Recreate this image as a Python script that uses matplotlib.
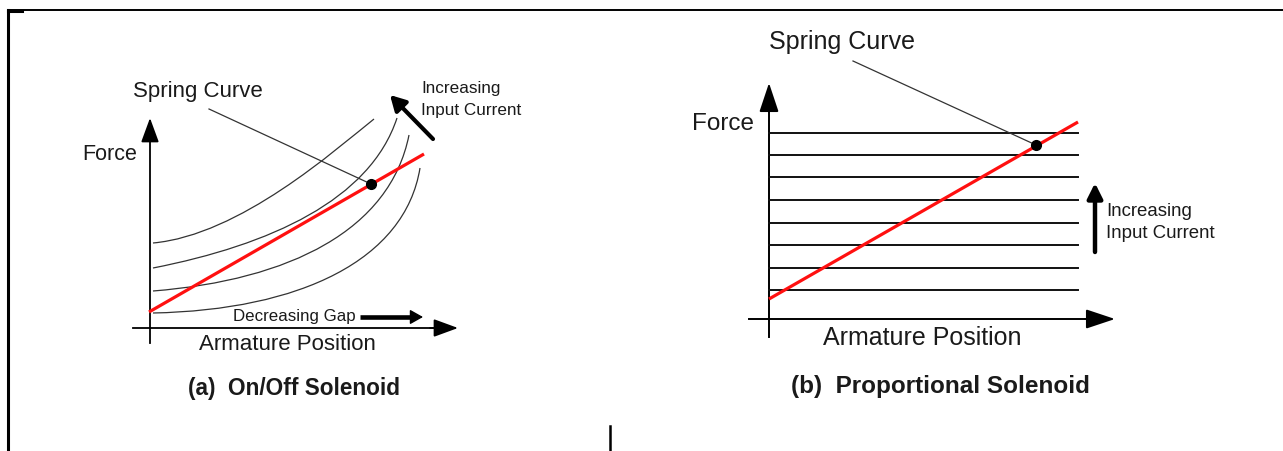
import numpy as np
import matplotlib.pyplot as plt
from matplotlib.path import Path
from matplotlib.patches import PathPatch

plt.rcParams['font.family'] = ['Liberation Sans', 'DejaVu Sans']

# panel (a): magnetic force curves, one per input current level
# each curve is a cubic bezier: start, control 1, control 2, end (drawing units)
curve_pts = [
    [(153, 243), (240, 235), (335, 150), (374, 119)],
    [(153, 268), (270, 245), (370, 200), (397, 118)],
    [(153, 291), (290, 280), (390, 230), (409, 135)],
    [(153, 313), (300, 310), (405, 260), (420, 168)],
]
spring_a_x = [149, 424]
spring_a_y = [312, 154]
op_a = (371, 184)

# panel (b): flat force lines for proportional solenoid
force_levels_b = [133, 155, 177, 200, 223, 245, 268, 290]
line_b_x = [769, 1078]
spring_b_x = [769, 1078]
spring_b_y = [299, 122]
op_b = (1036, 145)

fig = plt.figure(figsize=(12.83, 4.51), dpi=100)
ax = fig.add_axes([0, 0, 1, 1])
ax.set_xlim(0, 1283)
ax.set_ylim(451, 0)
ax.axis('off')

txt = '#1a1a1a'


def arrow(x0, y0, x1, y1, lw, hl, hw):
    ax.annotate('', xy=(x1, y1), xytext=(x0, y0),
                arrowprops=dict(arrowstyle='-|>,head_length=%g,head_width=%g' % (hl, hw),
                                lw=lw, color='black', shrinkA=0, shrinkB=0))


# page frame
ax.plot([8, 1283], [10, 10], color='black', lw=1.4)
ax.plot([8, 8], [10, 451], color='black', lw=2.2)
ax.plot([8, 22], [11, 11], color='black', lw=2.2)
ax.plot([610, 610], [426, 451], color='black', lw=1.8)

# ---- (a) On/Off solenoid ----
ax.plot([150, 150], [343, 125], color='black', lw=1.3)
arrow(150, 140, 150, 118, 1.3, 1.5, 0.55)
ax.plot([133, 440], [328, 328], color='black', lw=1.3)
arrow(430, 328, 458, 328, 1.3, 1.5, 0.55)

codes = [Path.MOVETO, Path.CURVE4, Path.CURVE4, Path.CURVE4]
for pts in curve_pts:
    ax.add_patch(PathPatch(Path(pts, codes), fill=False, edgecolor='#333333', lw=0.9))

ax.plot(spring_a_x, spring_a_y, color='#ff1010', lw=2.3, solid_capstyle='butt')
ax.plot([209, op_a[0]], [109, op_a[1]], color='#333333', lw=0.9)
ax.plot(*op_a, 'o', color='black', ms=7)

arrow(433, 139, 390, 95, 3.0, 0.9, 0.5)
ax.plot([360, 412], [317, 317], color='black', lw=3.3, solid_capstyle='butt')
arrow(405, 317, 423, 317, 1, 0.8, 0.45)

ax.text(198, 92, 'Spring Curve', fontsize=16, color=txt, ha='center', va='center')
ax.text(110, 155, 'Force', fontsize=15.5, color=txt, ha='center', va='center')
ax.text(421, 89, 'Increasing', fontsize=12.3, color=txt, ha='left', va='center')
ax.text(421, 110, 'Input Current', fontsize=12.3, color=txt, ha='left', va='center')
ax.text(233, 316, 'Decreasing Gap', fontsize=12.2, color=txt, ha='left', va='center')
ax.text(287, 345, 'Armature Position', fontsize=16, color=txt, ha='center', va='center')
ax.text(294, 388, '(a)  On/Off Solenoid', fontsize=16.3, color=txt, ha='center',
        va='center', fontweight='bold')

# ---- (b) Proportional solenoid ----
ax.plot([769, 769], [337, 95], color='black', lw=1.4)
arrow(769, 110, 769, 83, 1.4, 1.8, 0.6)
ax.plot([749, 1095], [319, 319], color='black', lw=1.4)
arrow(1085, 319, 1115, 319, 1.4, 1.8, 0.6)

for fy in force_levels_b:
    ax.plot(line_b_x, [fy, fy], color='#111111', lw=1.4)

ax.plot(spring_b_x, spring_b_y, color='#ff1010', lw=2.3, solid_capstyle='butt')
ax.plot([853, op_b[0]], [61, op_b[1]], color='#333333', lw=0.9)
ax.plot(*op_b, 'o', color='black', ms=7)

arrow(1095, 252, 1095, 183, 3.2, 0.9, 0.45)

ax.text(842, 42, 'Spring Curve', fontsize=18, color=txt, ha='center', va='center')
ax.text(723, 124, 'Force', fontsize=17.5, color=txt, ha='center', va='center')
ax.text(1106, 212, 'Increasing', fontsize=13.4, color=txt, ha='left', va='center')
ax.text(1106, 234, 'Input Current', fontsize=13.4, color=txt, ha='left', va='center')
ax.text(922, 338, 'Armature Position', fontsize=18, color=txt, ha='center', va='center')
ax.text(940, 387, '(b)  Proportional Solenoid', fontsize=17.5, color=txt, ha='center',
        va='center', fontweight='bold')

fig.savefig('out.png', dpi=100, facecolor='white')
